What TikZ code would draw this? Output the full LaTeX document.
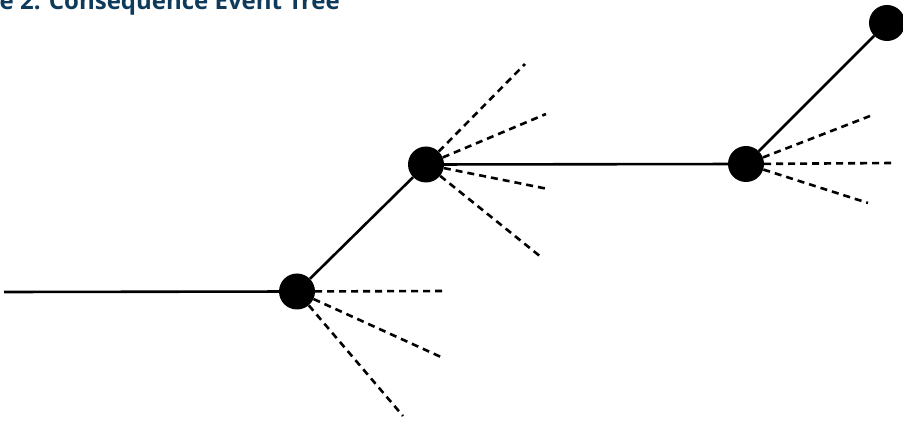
\documentclass[tikz,border=0pt]{standalone}
\usepackage{fontspec}
\setmainfont{Open Sans}
\definecolor{titleblue}{HTML}{0E3A5C}
\tikzset{
  event/.style={circle, fill=black, inner sep=0pt, minimum size=36pt},
  solidline/.style={line width=2.6pt, black},
  dashline/.style={line width=2.6pt, black, dash pattern=on 7pt off 5pt},
}
\begin{document}
\begin{tikzpicture}[x=1pt,y=-1pt]
\useasboundingbox (0,0) rectangle (903,422);
\node[anchor=base east, inner sep=0pt, text=titleblue, font=\bfseries\fontsize{24}{28}\selectfont] (title) at (340,10) {e 2. Consequence Event Tree};
% event nodes
\node[event] (A) at (297,291.5) {};
\node[event] (B) at (426,164.5) {};
\node[event] (C) at (746,164) {};
\node[event] (D) at (887,23) {};
% free ends
\coordinate (start) at (4,292);
\coordinate (a1) at (445,291);
\coordinate (a2) at (441,357);
\coordinate (a3) at (403,416);
\coordinate (b1) at (525,64);
\coordinate (b2) at (546,114);
\coordinate (b3) at (548,189);
\coordinate (b4) at (541,257);
\coordinate (c1) at (870,116);
\coordinate (c2) at (893,163);
\coordinate (c3) at (868,203);
% solid branches
\draw[solidline] (start) -- (A);
\draw[solidline] (A) -- (B);
\draw[solidline] (B) -- (C);
\draw[solidline] (C) -- (D);
% dashed branches
\draw[dashline] (A) -- (a1);
\draw[dashline] (A) -- (a2);
\draw[dashline] (A) -- (a3);
\draw[dashline] (B) -- (b1);
\draw[dashline] (B) -- (b2);
\draw[dashline] (B) -- (b3);
\draw[dashline] (B) -- (b4);
\draw[dashline] (C) -- (c1);
\draw[dashline] (C) -- (c2);
\draw[dashline] (C) -- (c3);
\end{tikzpicture}
\end{document}
